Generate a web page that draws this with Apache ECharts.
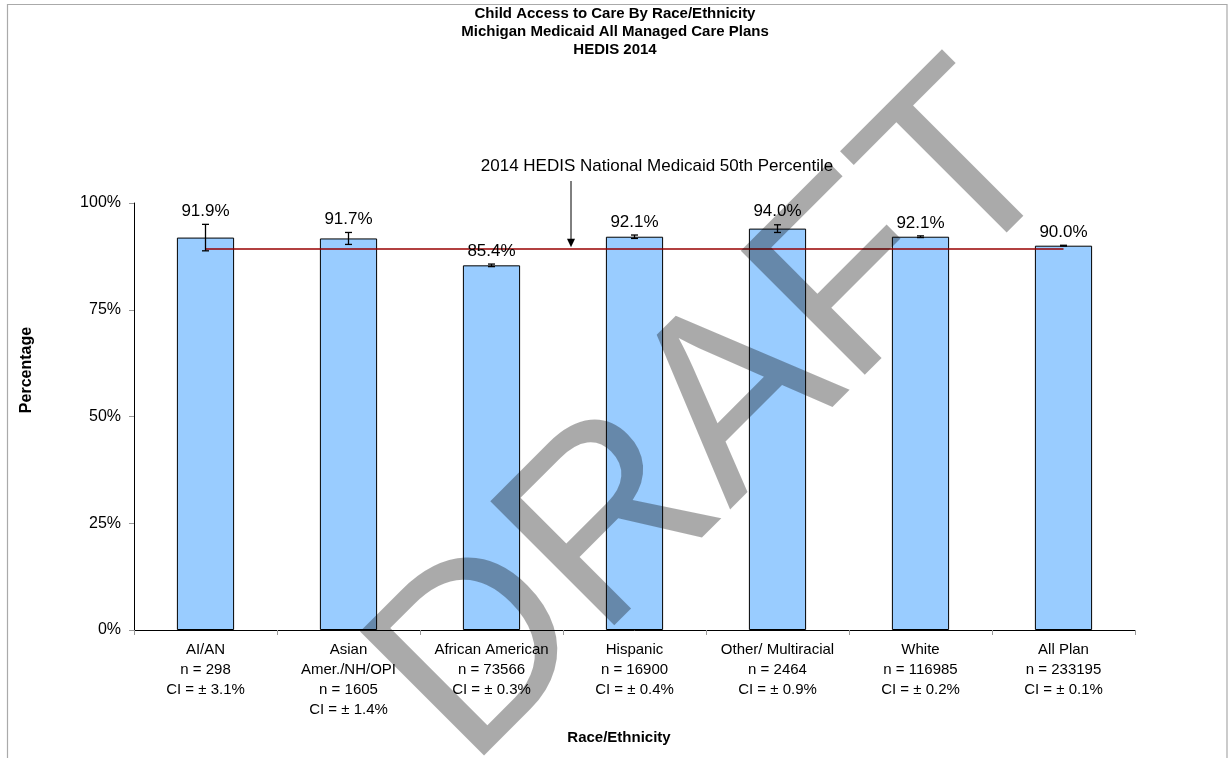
<!DOCTYPE html>
<html>
<head>
<meta charset="utf-8">
<script src="https://cdn.jsdelivr.net/npm/echarts@6/dist/echarts.min.js"></script>
<style>
html,body{margin:0;padding:0;background:#fff;}
#chart{width:1230px;height:758px;}
</style>
</head>
<body>
<div id="chart"></div>
<script>
// ---- data ----
const groups = ['AI/AN', 'Asian\nAmer./NH/OPI', 'African American', 'Hispanic', 'Other/ Multiracial', 'White', 'All Plan'];
const sampleN = [298, 1605, 73566, 16900, 2464, 116985, 233195];
const rates = [91.9, 91.7, 85.4, 92.1, 94.0, 92.1, 90.0];
const ciHalf = [3.1, 1.4, 0.3, 0.4, 0.9, 0.2, 0.1];
const benchmark = 89.3;
const yTicks = [0, 25, 50, 75, 100];

const FONT = '"Liberation Sans", Arial, sans-serif';

const categories = groups.map((g, i) => g + '\nn = ' + sampleN[i] + '\nCI = \u00b1 ' + ciHalf[i].toFixed(1) + '%');
const errData = rates.map((v, i) => [i, v - ciHalf[i], v + ciHalf[i], v]);

const chart = echarts.init(document.getElementById('chart'));

const option = {
  backgroundColor: '#ffffff',
  animation: false,
  title: {
    text: 'Child Access to Care By Race/Ethnicity\nMichigan Medicaid All Managed Care Plans\nHEDIS 2014',
    left: 'center',
    top: 5,
    padding: 0,
    textStyle: { fontFamily: FONT, fontSize: 15, fontWeight: 'bold', lineHeight: 18, color: '#000' }
  },
  grid: { left: 134, right: 95, top: 203, bottom: 128, containLabel: false },
  xAxis: {
    type: 'category',
    data: categories,
    axisLine: { lineStyle: { color: '#000', width: 1 } },
    axisTick: { show: true, length: 5, lineStyle: { color: '#999' } },
    axisLabel: { fontFamily: FONT, fontSize: 15, color: '#000', lineHeight: 20, margin: 10, interval: 0 }
  },
  yAxis: {
    type: 'value',
    min: yTicks[0],
    max: yTicks[yTicks.length - 1],
    interval: 25,
    splitLine: { show: false },
    axisLine: { show: true, lineStyle: { color: '#000', width: 1 } },
    axisTick: { show: true, length: 5, lineStyle: { color: '#999' } },
    axisLabel: { fontFamily: FONT, fontSize: 16, color: '#000', margin: 13, formatter: '{value}%' }
  },
  series: [
    {
      type: 'bar',
      data: rates,
      barWidth: '40%',
      itemStyle: { color: '#99CCFF', borderColor: '#000', borderWidth: 1 },
      z: 2,
      markLine: {
        silent: true,
        symbol: 'none',
        label: { show: false },
        lineStyle: { color: '#990000', width: 1.5, type: 'solid' },
        data: [[{ coord: [0, benchmark] }, { coord: [rates.length - 1, benchmark] }]]
      }
    },
    {
      type: 'custom',
      data: errData,
      encode: { x: 0, y: [1, 2] },
      z: 5,
      renderItem: function (params, api) {
        const idx = api.value(0);
        const lo = api.coord([idx, api.value(1)]);
        const hi = api.coord([idx, api.value(2)]);
        const x = lo[0];
        const hw = 3.5;
        const st = { stroke: '#000', lineWidth: 1.3 };
        return {
          type: 'group',
          children: [
            { type: 'line', shape: { x1: x, y1: hi[1], x2: x, y2: lo[1] }, style: st },
            { type: 'line', shape: { x1: x - hw, y1: hi[1], x2: x + hw, y2: hi[1] }, style: st },
            { type: 'line', shape: { x1: x - hw, y1: lo[1], x2: x + hw, y2: lo[1] }, style: st },
            { type: 'text', x: x, y: hi[1] - 13,
              style: { text: api.value(3).toFixed(1) + '%', font: '17px ' + FONT, fill: '#000', align: 'center', verticalAlign: 'middle' } }
          ]
        };
      }
    }
  ]
};
chart.setOption(option);

// annotation pointing at the benchmark line
const refY = chart.convertToPixel({ yAxisIndex: 0 }, benchmark);
const arrowX = 571;

chart.setOption({
  graphic: [
    { type: 'rect', silent: true, shape: { x: 7.5, y: 4.5, width: 1219.5, height: 800 },
      style: { fill: 'none', stroke: '#aaaaaa', lineWidth: 1.2 }, z: 0 },
    { type: 'text', x: 657, y: 166, silent: true,
      style: { text: '2014 HEDIS National Medicaid 50th Percentile', font: '17px ' + FONT, fill: '#000', align: 'center', verticalAlign: 'middle' }, z: 10 },
    { type: 'line', silent: true, shape: { x1: arrowX, y1: 181, x2: arrowX, y2: refY - 8 },
      style: { stroke: '#000', lineWidth: 1 }, z: 10 },
    { type: 'polygon', silent: true, shape: { points: [[arrowX - 4, refY - 10], [arrowX + 4, refY - 10], [arrowX, refY - 1.5]] },
      style: { fill: '#000' }, z: 10 },
    { type: 'text', x: 27, y: 370, rotation: Math.PI / 2, silent: true,
      style: { text: 'Percentage', font: 'bold 16px ' + FONT, fill: '#000', align: 'center', verticalAlign: 'middle' }, z: 10 },
    { type: 'text', x: 619, y: 738, silent: true,
      style: { text: 'Race/Ethnicity', font: 'bold 15px ' + FONT, fill: '#000', align: 'center', verticalAlign: 'middle' }, z: 10 },
    { type: 'text', x: 720, y: 420, rotation: Math.PI / 4, silent: true,
      style: { text: 'DRAFT', font: '255px ' + FONT, fill: 'rgba(0,0,0,0.333)', align: 'center', verticalAlign: 'middle' }, z: 100 }
  ]
});
</script>
</body>
</html>
